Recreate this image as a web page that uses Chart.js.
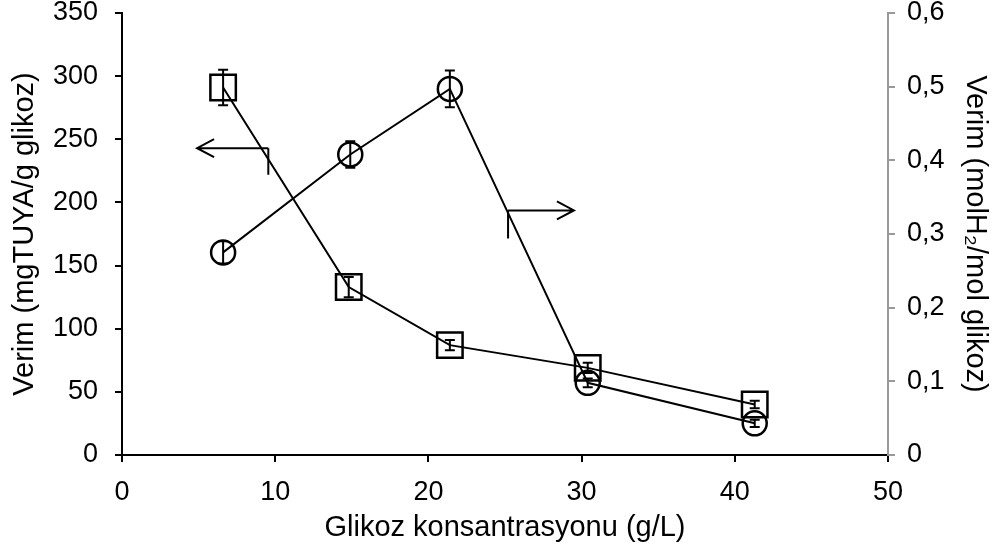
<!DOCTYPE html>
<html>
<head>
<meta charset="utf-8">
<style>
  html, body { margin: 0; padding: 0; background: #fff; }
  #wrap { width: 999px; height: 558px; }
</style>
</head>
<body>
<div id="wrap"><canvas id="chart"></canvas></div>
<script src="https://cdn.jsdelivr.net/npm/chart.js"></script>
<script>
  // glucose concentration (g/L)
  const glukozSq = [6.6, 14.8, 21.4, 30.4, 41.3];
  const verimTuya = [291, 133, 87, 69, 40];      // mgTUYA/g glikoz (left axis)
  const hataTuya = [14, 8, 4, 4, 3];

  const glukozCi = [6.6, 14.9, 21.4, 30.4, 41.3];
  const verimH2 = [0.275, 0.408, 0.497, 0.098, 0.043]; // molH2/mol glikoz (right axis)
  const hataH2 = [0.015, 0.018, 0.025, 0.006, 0.005];

  const xTicks = [0, 10, 20, 30, 40, 50];

  // arrows: [x, y] on their own axis, tail -> corner -> tick end
  const okSol = { axis: 'y', line: [[4.9, 243], [9.55, 243]], tick: [9.55, 222], head: 'left' };
  const okSag = { axis: 'y1', line: [[25.2, 0.332], [29.5, 0.332]], tick: [25.2, 0.294], head: 'right' };

  const font = "'Liberation Sans', Arial, sans-serif";
  const tickSize = 27;
  const titleSize = 29;

  const squares = glukozSq.map((x, i) => ({ x: x, y: verimTuya[i], e: hataTuya[i] }));
  const circles = glukozCi.map((x, i) => ({ x: x, y: verimH2[i], e: hataH2[i] }));

  const errorBars = {
    id: 'errorBars',
    afterDatasetsDraw(chart) {
      const ctx = chart.ctx;
      const xs = chart.scales.x;
      ctx.save();
      ctx.strokeStyle = '#000';
      ctx.lineWidth = 2;
      chart.data.datasets.forEach((ds) => {
        if (!ds.errors) return;
        const ys = chart.scales[ds.yAxisID];
        ds.data.forEach((p) => {
          const px = xs.getPixelForValue(p.x);
          const top = ys.getPixelForValue(p.y + p.e);
          const bot = ys.getPixelForValue(p.y - p.e);
          ctx.beginPath();
          ctx.moveTo(px, top); ctx.lineTo(px, bot);
          ctx.moveTo(px - 5, top); ctx.lineTo(px + 5, top);
          ctx.moveTo(px - 5, bot); ctx.lineTo(px + 5, bot);
          ctx.stroke();
        });
      });
      // arrows
      [okSol, okSag].forEach((a) => {
        const ys = chart.scales[a.axis];
        const x0 = xs.getPixelForValue(a.line[0][0]);
        const x1 = xs.getPixelForValue(a.line[1][0]);
        const y0 = ys.getPixelForValue(a.line[0][1]);
        const tx = xs.getPixelForValue(a.tick[0]);
        const ty = ys.getPixelForValue(a.tick[1]);
        ctx.beginPath();
        ctx.moveTo(x0, y0); ctx.lineTo(x1, y0);
        ctx.moveTo(tx, y0); ctx.lineTo(tx, ty);
        const hx = a.head === 'left' ? x0 : x1;
        const d = a.head === 'left' ? 1 : -1;
        ctx.moveTo(hx + d * 17, y0 - 9); ctx.lineTo(hx, y0); ctx.lineTo(hx + d * 17, y0 + 9);
        ctx.stroke();
      });
      ctx.restore();
    }
  };

  new Chart(document.getElementById('chart'), {
    type: 'scatter',
    data: {
      datasets: [{
        data: squares,
        errors: true,
        yAxisID: 'y',
        showLine: true,
        borderColor: '#000',
        borderWidth: 2,
        pointStyle: 'rect',
        pointRadius: 18,
        pointBorderWidth: 2.5,
        pointBackgroundColor: 'rgba(0,0,0,0)',
        pointBorderColor: '#000',
        tension: 0
      }, {
        data: circles,
        errors: true,
        yAxisID: 'y1',
        showLine: true,
        borderColor: '#000',
        borderWidth: 2,
        pointStyle: 'circle',
        pointRadius: 12,
        pointBorderWidth: 2.5,
        pointBackgroundColor: 'rgba(0,0,0,0)',
        pointBorderColor: '#000',
        tension: 0
      }]
    },
    options: {
      responsive: true,
      maintainAspectRatio: false,
      animation: false,
      clip: false,
      layout: { autoPadding: false, padding: { top: 4, right: 7, left: 8, bottom: 13 } },
      plugins: { legend: { display: false }, tooltip: { enabled: false } },
      scales: {
        x: {
          type: 'linear', min: 0, max: 50,
          afterBuildTicks: (s) => { s.ticks = xTicks.map(v => ({ value: v })); },
          afterFit: (s) => { s.height = 90; },
          ticks: { color: '#000', font: { family: font, size: tickSize }, padding: 14 },
          grid: { drawOnChartArea: false, drawTicks: true, tickLength: 7, color: '#000', lineWidth: 2 },
          border: { color: '#000', width: 2 },
          title: { display: true, text: 'Glikoz konsantrasyonu (g/L)', color: '#000', font: { family: font, size: titleSize }, padding: { top: 0, bottom: 0 } }
        },
        y: {
          position: 'left', min: 0, max: 350,
          afterFit: (s) => { s.width = 114; s.paddingTop = 13; s.paddingBottom = 13; },
          ticks: { stepSize: 50, color: '#000', font: { family: font, size: tickSize, lineHeight: 1 }, padding: 17 },
          grid: { drawOnChartArea: false, drawTicks: true, tickLength: 7, color: '#000', lineWidth: 2 },
          border: { color: '#000', width: 2 },
          title: { display: true, text: 'Verim (mgTUYA/g glikoz)', color: '#000', font: { family: font, size: titleSize }, padding: { top: 0, bottom: 0 } }
        },
        y1: {
          position: 'right', min: 0, max: 0.6,
          afterFit: (s) => { s.width = 104; s.paddingTop = 13; s.paddingBottom = 13; },
          ticks: {
            stepSize: 0.1, color: '#000', font: { family: font, size: tickSize, lineHeight: 1 }, padding: 12,
            callback: (v) => v === 0 ? '0' : v.toFixed(1).replace('.', ',')
          },
          grid: { drawOnChartArea: false, drawTicks: true, tickLength: 7, color: '#999', lineWidth: 2 },
          border: { color: '#999', width: 2 },
          title: { display: true, text: 'Verim (molH₂/mol glikoz)', color: '#000', font: { family: font, size: titleSize }, padding: { top: 0, bottom: 0 } }
        }
      }
    },
    plugins: [errorBars]
  });
</script>
</body>
</html>
